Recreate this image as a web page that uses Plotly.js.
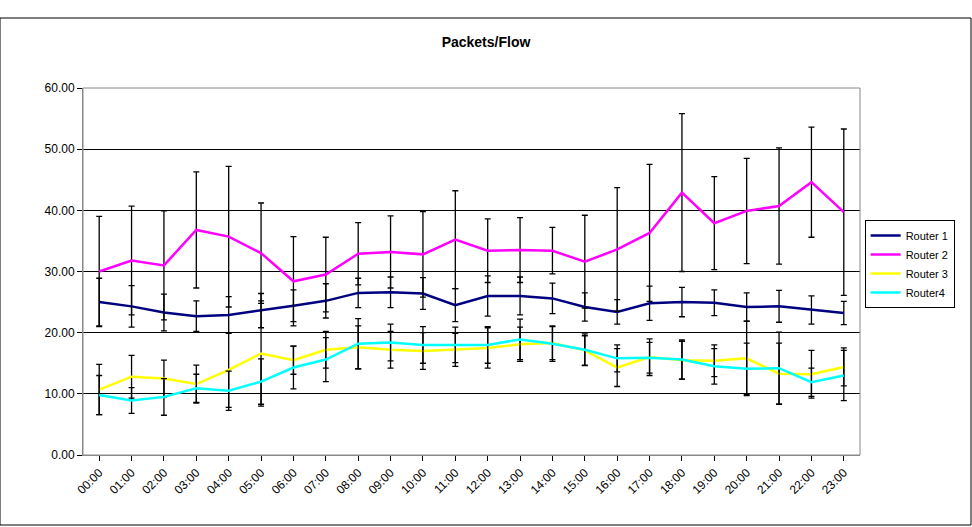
<!DOCTYPE html><html><head><script src="https://cdn.plot.ly/plotly-3.0.1.min.js"></script></head><body style="margin:0"><div id="c" style="width:972px;height:527px"></div><script>
const hours=["00:00","01:00","02:00","03:00","04:00","05:00","06:00","07:00","08:00","09:00","10:00","11:00","12:00","13:00","14:00","15:00","16:00","17:00","18:00","19:00","20:00","21:00","22:00","23:00"];
const r1=[25.0,24.3,23.3,22.7,22.9,23.6,24.4,25.2,26.5,26.6,26.4,24.5,26.0,26.0,25.6,24.2,23.4,24.8,25.0,24.9,24.2,24.3,23.7,23.2];
const r1e=[3.9,3.4,3.0,2.5,3.0,2.8,2.6,2.8,2.4,2.5,2.6,2.7,3.3,3.1,2.5,2.3,2.0,2.8,2.4,2.1,2.3,2.6,2.3,1.9];
const r2=[30.0,31.8,31.0,36.8,35.7,33.0,28.4,29.5,32.9,33.2,32.8,35.2,33.4,33.5,33.4,31.6,33.6,36.3,42.9,37.9,39.9,40.7,44.6,39.7];
const r2e=[9.0,8.9,8.9,9.5,11.5,8.2,7.3,6.1,5.1,5.9,7.0,8.0,5.2,5.3,3.8,7.6,10.1,11.2,12.9,7.6,8.6,9.5,9.0,13.6];
const r3=[10.7,12.8,12.5,11.6,13.9,16.6,15.5,17.2,17.6,17.2,17.0,17.2,17.5,18.1,18.3,17.1,14.3,16.0,15.5,15.4,15.8,13.3,13.2,14.4];
const r3e=[4.1,3.5,3.0,3.1,6.1,8.6,2.3,3.0,3.5,3.0,3.0,2.7,3.3,2.8,2.7,2.4,3.1,3.0,3.1,2.6,6.1,5.0,3.9,3.1];
const r4=[9.8,8.9,9.5,10.9,10.5,12.0,14.3,15.6,18.2,18.4,18.0,18.0,18.0,18.9,18.2,17.2,15.8,15.9,15.6,14.5,14.1,14.2,11.9,13.0];
const r4e=[3.2,2.1,3.0,2.3,3.2,3.7,3.5,3.6,4.1,3.0,3.0,2.9,3.0,3.3,2.9,2.6,2.2,2.5,3.2,2.9,4.2,5.9,2.3,4.1];
function tr(n,y,e,c){return {x:hours,y:y,name:n,type:'scatter',mode:'lines',line:{color:c,width:2.5},error_y:{type:'data',array:e,visible:true,color:'#000',thickness:1.3,width:3}};}
Plotly.newPlot('c',[tr('Router 1',r1,r1e,'#000080'),tr('Router 2',r2,r2e,'#ff00ff'),tr('Router 3',r3,r3e,'#ffff00'),tr('Router4',r4,r4e,'#00ffff')],{
width:972,height:527,paper_bgcolor:'#fff',plot_bgcolor:'#fff',font:{family:'Liberation Sans, Arial',size:12,color:'#000'},
title:{text:'<b>Packets/Flow</b>',x:0.5,y:0.93,font:{size:14}},
margin:{l:83,r:112,t:88,b:72},showlegend:true,
legend:{x:1.006,y:0.64,xanchor:'left',yanchor:'top',bordercolor:'#000',borderwidth:1,font:{size:11},tracegroupgap:0,itemwidth:30},
xaxis:{tickangle:-45,showline:true,linecolor:'#888',mirror:false,ticks:'outside',tickcolor:'#000',showgrid:false,range:[-0.5,23.5]},
yaxis:{range:[0,60],dtick:10,tickformat:'.2f',showgrid:true,gridcolor:'#000',gridwidth:1,showline:true,linecolor:'#888',ticks:'outside',tickcolor:'#000',zeroline:false},
shapes:[{type:'rect',xref:'paper',yref:'paper',x0:0,x1:1,y0:0,y1:1,line:{color:'#888',width:1}},{type:'rect',xref:'paper',yref:'paper',x0:-83/777,x1:(972-84)/777,y0:-70/367,y1:(527-90)/367,line:{color:'#000',width:1}}]
},{displayModeBar:false});
</script></body></html>
